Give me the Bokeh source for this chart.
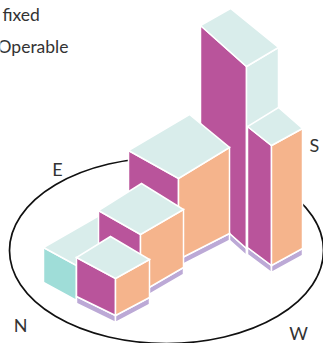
from bokeh.plotting import figure
from bokeh.models import Range1d
from bokeh.core.properties import value
from bokeh.embed import file_html
from bokeh.resources import INLINE

# facade blocks, back to front
block_names = ["tall", "south", "large", "north", "mid", "front"]
front_x = [246, 271, 178, 76, 140, 115]
top_y = [66, 145, 178, 265, 234, 278]
base_y = [248, 265, 259, 300, 292, 315]
left_dx = [-46, -24, -50, -33, -42, -39]
left_top_dy = [-41, -19, -28, -18, -24, -21]
left_base_dy = [-41, -18, -28, -18, -24, -19]
right_dx = [32, 31, 51, 60, 43, 34]
right_top_dy = [-19, -17, -31, -35, -25, -19]
right_base_dy = [-19, -17, -26, -35, -25, -18]
back_dx = [-16, 7, 11, 28, 1, -5]
back_dy = [-58, -38, -64, -53, -51, -42]
plinth = [7, 7, 7, 0, 7, 7]
left_colors = ["#B9549B", "#B9549B", "#B9549B", "#9FDDD8", "#B9549B", "#B9549B"]
right_colors = ["#D9EDEB", "#F5B48C", "#F5B48C", "#F5B48C", "#F5B48C", "#F5B48C"]
top_color = "#D9EDEB"
plinth_color = "#BCA9D6"

legend_labels = ["fixed", "Operable"]
legend_x = [2, -3]
legend_y = [14, 46]
compass_labels = ["E", "S", "N", "W"]
compass_x = [57, 314, 20, 298]
compass_y = [168, 144, 324, 332]
ring_x, ring_y, ring_w, ring_h = 166, 250, 314, 186

p = figure(width=323, height=343, output_backend="svg", toolbar_location=None,
           x_range=Range1d(0, 323), y_range=Range1d(343, 0), min_border=0)
p.styles = {"position": "absolute", "left": "0px", "top": "0px"}
p.axis.visible = False
p.grid.visible = False
p.outline_line_color = None
p.background_fill_color = "white"

p.ellipse([ring_x], [ring_y], width=[ring_w], height=[ring_h], fill_color=None,
          line_color="#111111", line_width=1.7)

for i in range(len(block_names)):
    fx, ty, by = front_x[i], top_y[i], base_y[i]
    lx, rx = fx + left_dx[i], fx + right_dx[i]
    lt, lb = ty + left_top_dy[i], by + left_base_dy[i]
    rt, rb = ty + right_top_dy[i], by + right_base_dy[i]
    th = plinth[i]
    kw = dict(line_color="white", line_width=1.5, line_join="miter")
    if th:
        p.patch([lx, fx, fx, lx], [lb, by, by + th, lb + th], fill_color=plinth_color, **kw)
        p.patch([fx, rx, rx, fx], [by, rb, rb + th, by + th], fill_color=plinth_color, **kw)
    p.patch([lx, fx, fx, lx], [lt, ty, by, lb], fill_color=left_colors[i], **kw)
    p.patch([fx, rx, rx, fx], [ty, rt, rb, by], fill_color=right_colors[i], **kw)
    p.patch([lx, fx, rx, fx + back_dx[i]], [lt, ty, rt, ty + back_dy[i]], fill_color=top_color, **kw)

p.text(legend_x, legend_y, text=legend_labels, text_font=value("Lato"), text_font_size="17.5px",
       text_color="#333333", text_baseline="middle", text_align="left")
p.text(compass_x, compass_y, text=compass_labels, text_font=value("Lato"), text_font_size="18px",
       text_color="#333333", text_baseline="middle", text_align="center")

open("out.html", "w").write(file_html(p, INLINE))
